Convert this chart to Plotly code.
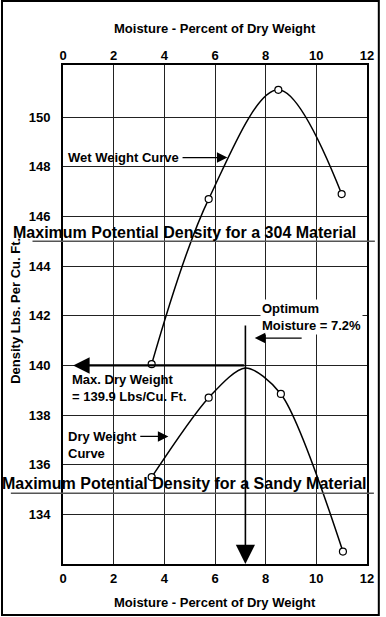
import plotly.graph_objects as go

# ---- data ----
x_ticks = [0, 2, 4, 6, 8, 10, 12]
y_ticks = [134, 136, 138, 140, 142, 144, 146, 148, 150]

wet_x = [3.5, 5.75, 8.5, 11.0]
wet_y = [140.05, 146.7, 151.1, 146.9]

dry_x = [3.5, 5.75, 7.2, 8.6, 11.05]
dry_y = [135.5, 138.7, 139.9, 138.85, 132.5]

optimum_moisture = 7.2
max_dry_weight = 139.9
potential_304 = 145.0
potential_sandy = 134.85

# ---- geometry helpers (pixel -> paper) ----
W, H = 386, 617
L, R, T, B = 63, 372, 65, 564
def px(x):
    return (x - L) / (R - L)
def py(y):
    return (B - y) / (B - T)

FONT = "Liberation Sans, Arial, sans-serif"
BOLD = dict(family=FONT, size=13, color="black", weight="bold")
TICKF = dict(family=FONT, size=13, color="black", weight="bold")

fig = go.Figure()

# wet curve
fig.add_trace(go.Scatter(x=wet_x, y=wet_y, mode="lines+markers",
                         line=dict(color="black", width=1.5, shape="spline", smoothing=1.0),
                         marker=dict(symbol="circle", size=7, color="white",
                                     line=dict(color="black", width=1.2)),
                         showlegend=False, hoverinfo="skip"))
# dry curve line
fig.add_trace(go.Scatter(x=dry_x, y=dry_y, mode="lines",
                         line=dict(color="black", width=1.5, shape="spline", smoothing=0.8),
                         showlegend=False, hoverinfo="skip"))
# dry curve markers (not at optimum)
mk = [(a, b) for a, b in zip(dry_x, dry_y) if a != optimum_moisture]
fig.add_trace(go.Scatter(x=[m[0] for m in mk], y=[m[1] for m in mk], mode="markers",
                         marker=dict(symbol="circle", size=7, color="white",
                                     line=dict(color="black", width=1.2)),
                         showlegend=False, hoverinfo="skip"))
# invisible trace for top axis
fig.add_trace(go.Scatter(x=[0, 12], y=[140, 140], xaxis="x2", mode="markers",
                         marker=dict(opacity=0), showlegend=False, hoverinfo="skip"))

shapes = []
# potential density lines
shapes.append(dict(type="line", xref="paper", yref="y", x0=px(32), x1=px(380),
                   y0=potential_304, y1=potential_304, line=dict(color="#555", width=1.5)))
shapes.append(dict(type="line", xref="paper", yref="y", x0=px(10), x1=px(379),
                   y0=potential_sandy, y1=potential_sandy, line=dict(color="#555", width=1.5)))
# outer frame
shapes.append(dict(type="rect", xref="paper", yref="paper", x0=px(1), x1=px(384),
                   y0=py(615), y1=py(1), line=dict(color="black", width=2)))

annotations = []
def label(text, x, y, font, xanchor="center", align="center", **kw):
    annotations.append(dict(text=text, xref="paper", yref="paper", x=px(x), y=py(y),
                            xanchor=xanchor, yanchor="middle", align=align,
                            showarrow=False, font=font, **kw))

# axis titles
label("Moisture - Percent of Dry Weight", 218, 28, BOLD)
label("Moisture - Percent of Dry Weight", 218, 602, BOLD)
label("Density Lbs. Per Cu. Ft.", 14, 311, BOLD, textangle=-90)
# big labels
BIG = dict(family=FONT, size=16, color="black", weight="bold")
label("Maximum Potential Density for a 304 Material", 187, 232, BIG)
label("Maximum Potential Density for a Sandy Material", 186, 483, BIG)
# text labels
label("Wet Weight Curve", 66, 157, BOLD, xanchor="left")
label("Optimum<br>Moisture = 7.2%", 263, 317, BOLD, xanchor="left", align="left", bgcolor="white")
label("Max. Dry Weight<br>= 139.9 Lbs/Cu. Ft.", 70, 388, BOLD, xanchor="left", align="left")
label("Dry Weight<br>Curve", 66, 445, BOLD, xanchor="left", align="left")

# arrows
def arrow(x_tip, y_tip, x_tail, y_tail, width, size, head=2):
    annotations.append(dict(x=x_tip, y=y_tip, ax=x_tail, ay=y_tail, xref="x", yref="y",
                            axref="x", ayref="y", text="", showarrow=True, arrowhead=head,
                            arrowwidth=width, arrowsize=size, arrowcolor="black", standoff=0))
arrow(0.4, max_dry_weight + 0.1, optimum_moisture, max_dry_weight + 0.1, 2.2, 1.5)
arrow(optimum_moisture, 132.0, optimum_moisture, 141.67, 1.6, 2.4)
arrow(7.57, 141.1, 9.48, 141.1, 1.4, 1.5)
arrow(6.49, 148.37, 4.66, 148.37, 1.4, 1.5)
arrow(4.16, 137.14, 2.99, 137.14, 1.4, 1.5)

fig.update_layout(
    width=W, height=H,
    margin=dict(l=L, r=W - R, t=T, b=H - B),
    paper_bgcolor="white", plot_bgcolor="white",
    font=dict(family=FONT, size=12, color="black"),
    shapes=shapes, annotations=annotations,
    xaxis=dict(range=[0, 12], tickvals=x_ticks, showgrid=True, gridcolor="#222", gridwidth=1,
               showline=True, linecolor="black", linewidth=2, mirror=True, zeroline=False,
               ticks="", ticklabelstandoff=1, tickfont=TICKF, fixedrange=True),
    xaxis2=dict(range=[0, 12], tickvals=x_ticks, overlaying="x", side="top", showgrid=False,
                showline=False, zeroline=False, ticks="", tickfont=TICKF, ticklabelstandoff=1,
                fixedrange=True),
    yaxis=dict(range=[132, 152.1], tickvals=y_ticks, showgrid=True, gridcolor="#222", gridwidth=1,
               showline=True, linecolor="black", linewidth=2, mirror=True, zeroline=False,
               ticks="", ticklabelstandoff=8, tickfont=TICKF, fixedrange=True),
)

fig.write_html("out.html", config={"displayModeBar": False},
               post_script="document.body.style.margin='0';document.body.style.overflow='hidden';")
